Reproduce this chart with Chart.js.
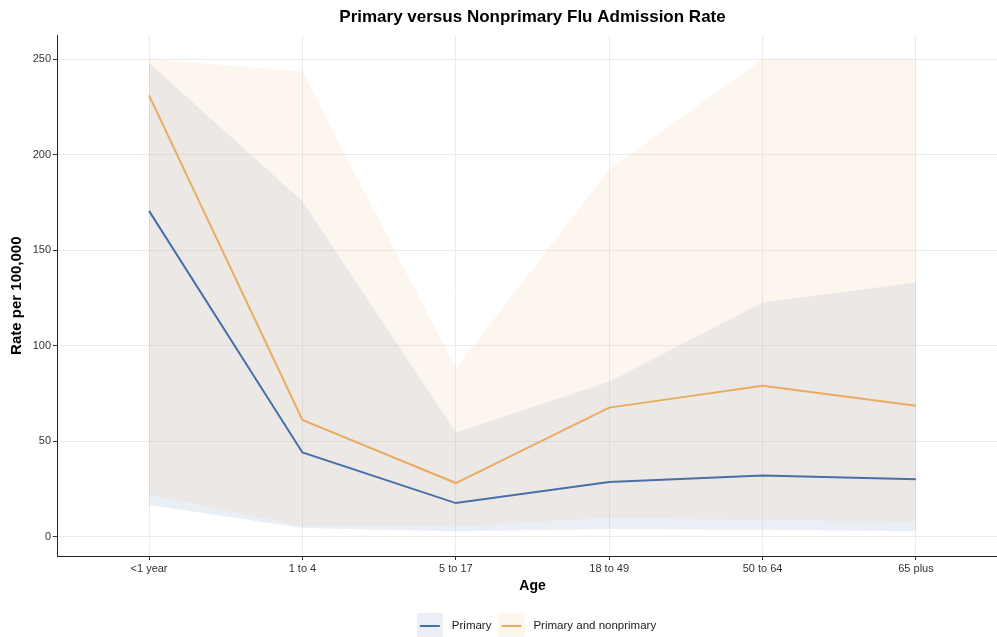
<!DOCTYPE html>
<html>
<head>
<meta charset="utf-8">
<title>Primary versus Nonprimary Flu Admission Rate</title>
<script src="https://cdn.jsdelivr.net/npm/chart.js@4/dist/chart.umd.min.js"></script>
<style>
  html, body { margin: 0; padding: 0; background: #ffffff; width: 997px; height: 637px; overflow: hidden; }
  #wrap { width: 1015px; height: 650px; }
</style>
</head>
<body>
<div id="wrap"><canvas id="chart" width="1015" height="650"></canvas></div>
<script>
// Age groups along the x axis
const CATEGORIES = ['<1 year', '1 to 4', '5 to 17', '18 to 49', '50 to 64', '65 plus'];

// Admission rate per 100,000 with interval bounds
const PRIMARY      = [170.5, 44, 17.5, 28.5, 32, 30];
const PRIMARY_LOW  = [16.5, 4.5, 2.7, 4, 3.5, 2.7];
const PRIMARY_HIGH = [248, 175.5, 54.5, 81, 122.5, 133];

const COMBINED      = [231, 61, 28, 67.5, 79, 68.5];
const COMBINED_LOW  = [22, 5.5, 5.3, 10, 8.5, 7.8];
const COMBINED_HIGH = [250, 243.5, 88, 192, 250, 250];

const Y_TICKS = [0, 50, 100, 150, 200, 250];

const FONT = '"Liberation Sans", Arial, Helvetica, sans-serif';
const BLUE = '#4a6fa8';
const ORANGE = '#e8ad62';
const BLUE_BAND = 'rgba(152,175,204,0.2)';
const ORANGE_BAND = 'rgba(238,180,113,0.12)';

const toPoints = arr => arr.map((v, i) => ({ x: i + 1, y: v }));

const lineStyle = color => ({
  borderColor: color, borderWidth: 2, pointRadius: 0, pointHoverRadius: 0,
  fill: false, tension: 0
});
const boundStyle = {
  borderColor: 'rgba(0,0,0,0)', borderWidth: 0, pointRadius: 0, pointHoverRadius: 0, tension: 0
};

// Bottom legend: shaded key with the series line across it
const bandLegend = {
  id: 'bandLegend',
  afterDraw(chart) {
    const ctx = chart.ctx;
    const items = [
      { text: chart.data.datasets[0].label, line: BLUE, fill: BLUE_BAND },
      { text: chart.data.datasets[1].label, line: ORANGE, fill: ORANGE_BAND }
    ];
    const keyW = 26, keyH = 26, textGap = 9, itemGap = 7;
    ctx.save();
    ctx.font = '11.5px ' + FONT;
    const widths = items.map(it => keyW + textGap + ctx.measureText(it.text).width);
    const total = widths.reduce((a, b) => a + b, 0) + itemGap * (items.length - 1);
    const cx = (chart.chartArea.left + chart.chartArea.right) / 2 + 4;
    const cy = 626;
    let x = cx - total / 2;
    items.forEach((it, i) => {
      ctx.fillStyle = it.fill;
      ctx.fillRect(x, cy - keyH / 2, keyW, keyH);
      ctx.strokeStyle = it.line;
      ctx.lineWidth = 2;
      ctx.beginPath();
      ctx.moveTo(x + 3, cy);
      ctx.lineTo(x + keyW - 3, cy);
      ctx.stroke();
      ctx.fillStyle = '#1a1a1a';
      ctx.textAlign = 'left';
      ctx.textBaseline = 'middle';
      ctx.fillText(it.text, x + keyW + textGap, cy);
      x += widths[i] + itemGap;
    });
    ctx.restore();
  }
};

new Chart(document.getElementById('chart'), {
  type: 'line',
  data: {
    datasets: [
      { label: 'Primary', data: toPoints(PRIMARY), ...lineStyle(BLUE) },
      { label: 'Primary and nonprimary', data: toPoints(COMBINED), ...lineStyle(ORANGE) },
      // combined interval band (painted after the primary band)
      { label: 'Combined lower', data: toPoints(COMBINED_LOW), ...boundStyle, fill: false },
      { label: 'Combined upper', data: toPoints(COMBINED_HIGH), ...boundStyle, fill: 2, backgroundColor: ORANGE_BAND },
      // primary interval band
      { label: 'Primary lower', data: toPoints(PRIMARY_LOW), ...boundStyle, fill: false },
      { label: 'Primary upper', data: toPoints(PRIMARY_HIGH), ...boundStyle, fill: 4, backgroundColor: BLUE_BAND }
    ]
  },
  options: {
    responsive: false,
    animation: false,
    devicePixelRatio: 1,
    layout: { padding: { left: 0, right: 7, top: 0, bottom: 47 } },
    plugins: {
      legend: { display: false },
      tooltip: { enabled: false },
      title: {
        display: true,
        fullSize: false,
        text: 'Primary versus Nonprimary Flu Admission Rate',
        color: '#000000',
        font: { family: FONT, size: 17, weight: 'bold', lineHeight: 1.2 },
        padding: { top: 7, bottom: 8 }
      }
    },
    scales: {
      x: {
        type: 'linear',
        min: 0.4,
        max: 6.6,
        afterBuildTicks(scale) { scale.ticks = CATEGORIES.map((_, i) => ({ value: i + 1 })); },
        afterFit(scale) { scale.height = 47; },
        ticks: {
          autoSkip: false,
          maxRotation: 0,
          padding: 2,
          color: '#333333',
          font: { family: FONT, size: 11 },
          callback: v => CATEGORIES[v - 1]
        },
        grid: { color: '#ebebeb', lineWidth: 1, drawTicks: true, tickLength: 4, tickColor: '#333333' },
        border: { display: true, color: '#222222', width: 1 },
        title: {
          display: true, text: 'Age', color: '#000000',
          font: { family: FONT, size: 14, weight: 'bold', lineHeight: 1.2 },
          padding: { top: 0, bottom: 8 }
        }
      },
      y: {
        type: 'linear',
        min: -10.2,
        max: 262.4,
        afterBuildTicks(scale) { scale.ticks = Y_TICKS.map(v => ({ value: v })); },
        afterFit(scale) { scale.width = 57; },
        ticks: { padding: 2, color: '#333333', font: { family: FONT, size: 11 } },
        grid: { color: '#ebebeb', lineWidth: 1, drawTicks: true, tickLength: 4, tickColor: '#333333' },
        border: { display: true, color: '#222222', width: 1 },
        title: {
          display: true, text: 'Rate per 100,000', color: '#000000',
          font: { family: FONT, size: 15, weight: 'bold', lineHeight: 1.2 },
          padding: { top: 8, bottom: 0 }
        }
      }
    }
  },
  plugins: [bandLegend]
});
</script>
</body>
</html>
